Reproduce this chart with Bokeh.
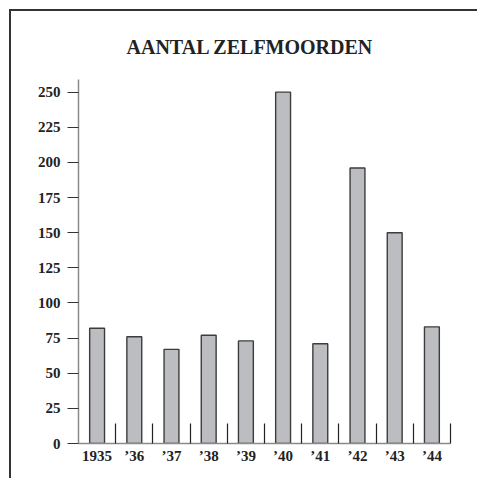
from bokeh.plotting import figure
from bokeh.models import FixedTicker, LinearAxis, Range1d
from bokeh.embed import file_html
from bokeh.resources import INLINE

# ---- data ----
years = ["1935", "\u201936", "\u201937", "\u201938", "\u201939",
         "\u201940", "\u201941", "\u201942", "\u201943", "\u201944"]
suicides = [82, 76, 67, 77, 73, 250, 71, 196, 150, 83]
y_ticks = [0, 25, 50, 75, 100, 125, 150, 175, 200, 225, 250]
title_text = "AANTAL ZELFMOORDEN"

FONT = "Liberation Serif"

centers = [i + 0.5 for i in range(len(years))]
bounds = [i + 1 for i in range(len(years))]

p = figure(width=468, height=469, output_backend="svg", toolbar_location=None,
           x_range=Range1d(0, len(years)), y_range=Range1d(0, 259),
           x_axis_type=None, y_axis_type=None,
           min_border_left=67, min_border_right=29,
           min_border_top=68, min_border_bottom=37,
           title=title_text)
p.styles = {"border-left": "2px solid #333", "border-top": "2px solid #333",
            "border-right": "none", "border-bottom": "none",
            "margin-left": "9px", "margin-top": "9px"}
p.outline_line_color = None
p.background_fill_color = "white"
p.border_fill_color = "white"

p.title.text_font = FONT
p.title.text_font_size = "20px"
p.title.text_font_style = "bold"
p.title.text_color = "#222222"
p.title.align = "left"
p.title.offset = 48
p.title.standoff = 44

p.vbar(x=centers, top=suicides, width=0.4, bottom=0,
       fill_color="#bcbdc1", line_color="#3c3c3c", line_width=1.4)

# x axis
xaxis = LinearAxis(ticker=FixedTicker(ticks=centers, minor_ticks=bounds))
xaxis.major_label_overrides = {c: y for c, y in zip(centers, years)}
xaxis.major_tick_in = 0
xaxis.major_tick_out = 0
xaxis.minor_tick_in = 20
xaxis.minor_tick_out = 0
xaxis.minor_tick_line_color = "#222222"
xaxis.minor_tick_line_width = 1.2
xaxis.axis_line_color = "#8a8a8a"
xaxis.axis_line_width = 1.5
xaxis.major_label_text_font = FONT
xaxis.major_label_text_font_size = "15px"
xaxis.major_label_text_font_style = "bold"
xaxis.major_label_text_color = "#222222"
xaxis.major_label_standoff = 4
p.add_layout(xaxis, "below")

# y axis
yaxis = LinearAxis(ticker=FixedTicker(ticks=y_ticks, minor_ticks=[]))
yaxis.major_tick_in = 0
yaxis.major_tick_out = 11
yaxis.major_tick_line_color = "#333333"
yaxis.major_tick_line_width = 1.2
yaxis.minor_tick_line_color = None
yaxis.axis_line_color = "#8a8a8a"
yaxis.axis_line_width = 1.5
yaxis.major_label_text_font = FONT
yaxis.major_label_text_font_size = "15px"
yaxis.major_label_text_font_style = "bold"
yaxis.major_label_text_color = "#222222"
yaxis.major_label_standoff = 7
p.add_layout(yaxis, "left")

p.xgrid.visible = False
p.ygrid.visible = False

open("out.html", "w").write(file_html(p, INLINE))
